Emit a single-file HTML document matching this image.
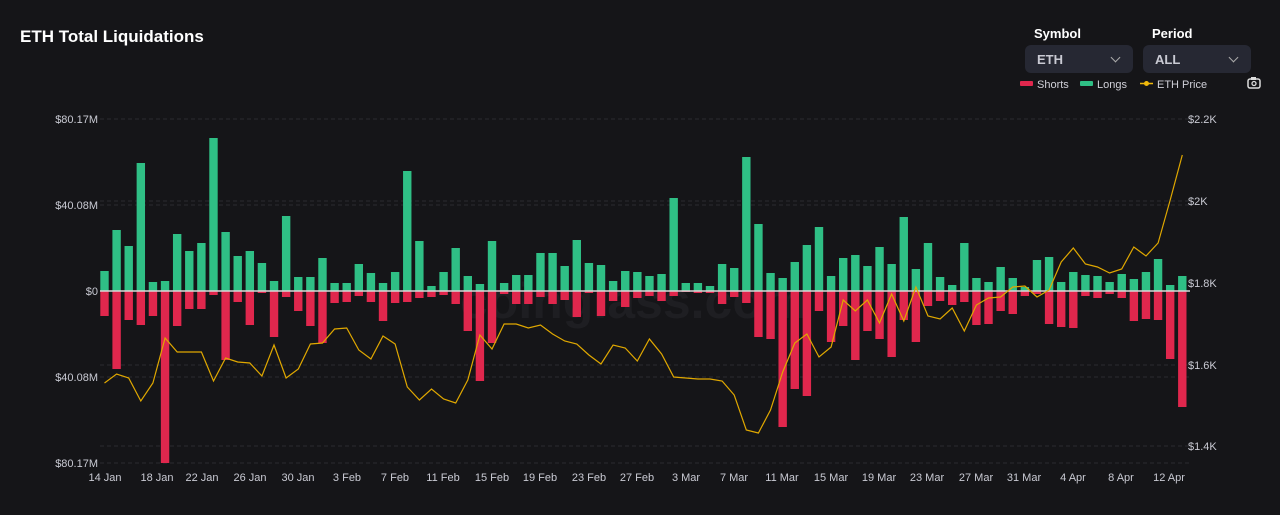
<!DOCTYPE html>
<html><head><meta charset="utf-8"><style>
html,body{margin:0;padding:0;background:#151518;width:1280px;height:515px;overflow:hidden;font-family:"Liberation Sans",Arial,sans-serif;}
.t{position:absolute;left:20px;top:27px;color:#fff;font-weight:bold;font-size:17px;}
.lab{position:absolute;color:#fff;font-weight:bold;font-size:13px;}
.dd{position:absolute;top:45px;width:108px;height:28px;background:#262833;border-radius:6px;color:#c9cad3;font-size:13px;font-weight:bold;}
.dd span{position:absolute;left:12px;top:7px;}
.dd i{position:absolute;right:14px;top:9px;width:6px;height:6px;border-right:1.5px solid #aaa;border-bottom:1.5px solid #aaa;transform:rotate(45deg);}
svg{position:absolute;left:0;top:0;}
</style></head><body>
<div class="t">ETH Total Liquidations</div>
<div class="lab" style="left:1034px;top:26px">Symbol</div>
<div class="lab" style="left:1152px;top:26px">Period</div>
<div class="dd" style="left:1025px"><span>ETH</span><i></i></div>
<div class="dd" style="left:1143px"><span>ALL</span><i></i></div>
<svg width="1280" height="515" xmlns="http://www.w3.org/2000/svg" font-family="Liberation Sans, Arial, sans-serif">
<rect x="1020" y="81" width="13" height="5" rx="1" fill="#e0274d"/>
<text x="1037" y="88" fill="#d0d0d8" font-size="11">Shorts</text>
<rect x="1080" y="81" width="13" height="5" rx="1" fill="#2fbf85"/>
<text x="1097" y="88" fill="#d0d0d8" font-size="11">Longs</text>
<line x1="1140" y1="83.5" x2="1153" y2="83.5" stroke="#f0b90b" stroke-width="1.5"/><circle cx="1146.5" cy="83.5" r="2.5" fill="#f0b90b"/>
<text x="1157" y="88" fill="#d0d0d8" font-size="11">ETH Price</text>
<rect x="1248" y="79" width="12" height="9" rx="2" fill="none" stroke="#ddd" stroke-width="1.5"/><rect x="1251" y="77" width="5" height="3" fill="#ddd"/><circle cx="1254" cy="83.5" r="2" fill="none" stroke="#ddd" stroke-width="1.3"/>
<g stroke="#2a2a2f" stroke-dasharray="4,3" stroke-width="1">
<line x1="100" y1="119" x2="1190" y2="119"/><line x1="100" y1="205" x2="1190" y2="205"/><line x1="100" y1="377" x2="1190" y2="377"/><line x1="100" y1="463" x2="1190" y2="463"/>
<line x1="100" y1="201" x2="1190" y2="201"/><line x1="100" y1="365" x2="1190" y2="365"/><line x1="100" y1="446" x2="1190" y2="446"/>
</g>
<g fill="#c9cad3" font-size="11" text-anchor="end">
<text x="98" y="123">$80.17M</text><text x="98" y="209">$40.08M</text><text x="98" y="295">$0</text><text x="98" y="381">$40.08M</text><text x="98" y="467">$80.17M</text>
</g>
<g fill="#c9cad3" font-size="11">
<text x="1188" y="123">$2.2K</text><text x="1188" y="205">$2K</text><text x="1188" y="287">$1.8K</text><text x="1188" y="369">$1.6K</text><text x="1188" y="450">$1.4K</text>
</g>
<text x="460" y="318" fill="#1e1e22" font-size="50" font-weight="bold">coinglass.com</text>
<g id="bars"></g>
<line x1="100" y1="291" x2="1190" y2="291" stroke="#d8d8d8" stroke-width="1.5"/>
<polyline id="pl" fill="none" stroke="#e0a800" stroke-width="1.2"/>
<g fill="#c9cad3" font-size="11" text-anchor="middle">
<text x="105" y="481">14 Jan</text><text x="157" y="481">18 Jan</text><text x="202" y="481">22 Jan</text><text x="250" y="481">26 Jan</text><text x="298" y="481">30 Jan</text><text x="347" y="481">3 Feb</text><text x="395" y="481">7 Feb</text><text x="443" y="481">11 Feb</text><text x="492" y="481">15 Feb</text><text x="540" y="481">19 Feb</text><text x="589" y="481">23 Feb</text><text x="637" y="481">27 Feb</text><text x="686" y="481">3 Mar</text><text x="734" y="481">7 Mar</text><text x="782" y="481">11 Mar</text><text x="831" y="481">15 Mar</text><text x="879" y="481">19 Mar</text><text x="927" y="481">23 Mar</text><text x="976" y="481">27 Mar</text><text x="1024" y="481">31 Mar</text><text x="1073" y="481">4 Apr</text><text x="1121" y="481">8 Apr</text><text x="1169" y="481">12 Apr</text>
</g>
</svg>
<script>
var g=[271,230,246,163,282,281,234,251,243,138,232,256,251,263,281,216,277,277,258,283,283,264,273,283,272,171,241,286,272,248,276,284,241,283,275,275,253,253,266,240,263,265,281,271,272,276,274,198,283,283,286,264,268,157,224,273,278,262,245,227,276,258,255,266,247,264,217,269,243,277,285,243,278,282,267,278,287,260,257,282,272,275,276,282,274,279,272,259,285,276];
var r=[316,369,320,325,316,463,326,309,309,295,360,302,325,293,337,297,311,326,343,303,302,296,302,321,303,302,298,297,295,304,331,381,343,294,304,304,297,304,300,317,293,316,301,307,298,296,301,296,292,293,293,304,297,303,337,339,427,389,396,311,342,326,360,331,339,357,320,342,306,301,305,302,325,324,311,314,296,294,324,327,328,296,298,294,298,321,319,320,359,407];
var p=[383,374,378,401,383,338,352,352,352,381,358,362,363,376,345,378,369,344,343,329,328,350,359,336,344,387,400,389,399,403,380,335,349,324,324,328,325,334,341,344,355,364,345,348,361,339,354,377,378,379,379,381,395,430,433,410,372,343,334,357,347,300,311,300,323,294,321,287,316,319,308,331,305,298,297,287,286,297,290,262,248,264,267,273,269,247,256,243,200,155];
var s='',pts=[];
for(var i=0;i<90;i++){var x=104.5+i*12.11;
s+='<rect x="'+(x-4.2)+'" y="'+g[i]+'" width="8.4" height="'+(291-g[i])+'" fill="#2fbf85"/>';
s+='<rect x="'+(x-4.2)+'" y="291" width="8.4" height="'+(r[i]-291)+'" fill="#e0274d"/>';
pts.push(x.toFixed(1)+','+p[i]);}
document.getElementById('bars').innerHTML=s;
document.getElementById('pl').setAttribute('points',pts.join(' '));
</script>
</body></html>
